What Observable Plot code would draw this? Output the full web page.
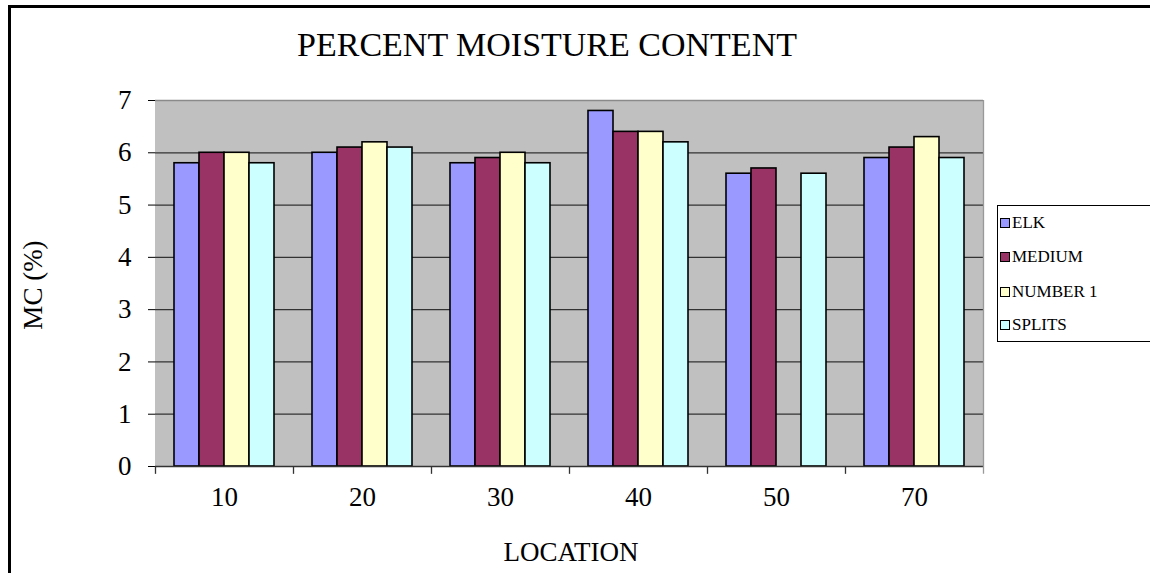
<!DOCTYPE html>
<html>
<head>
<meta charset="utf-8">
<script src="https://cdn.jsdelivr.net/npm/d3@7"></script>
<script src="https://cdn.jsdelivr.net/npm/@observablehq/plot@0.6"></script>
<style>
  html, body { margin: 0; padding: 0; background: #fff; }
  #wrap { position: relative; width: 1150px; height: 573px; overflow: hidden; font-family: "Liberation Serif", serif; color: #000; }
  #border { position: absolute; left: 8px; top: 5px; width: 1200px; height: 700px; border-left: 3px solid #000; border-top: 3px solid #000; }
  #chart { position: absolute; left: 0; top: 0; }
  .lbl { position: absolute; white-space: nowrap; }
  #title { left: 547px; top: 45px; transform: translate(-50%, -50%); font-size: 34px; }
  #xlab { left: 571px; top: 552px; transform: translate(-50%, -50%); font-size: 27px; }
  #ylab { left: 33px; top: 285px; transform: translate(-50%, -50%) rotate(-90deg); font-size: 27px; }
  #legend { position: absolute; left: 997px; top: 205px; width: 200px; height: 137px; border: 1px solid #000; box-sizing: border-box; background: #fff; }
  .li { position: absolute; left: 2px; font-size: 17px; display: flex; align-items: center; height: 20px; }
  .sw { width: 8px; height: 8px; border: 1.5px solid #000; margin-right: 2px; }
</style>
</head>
<body>
<div id="wrap">
  <div id="border"></div>
  <div id="chart"></div>
  <div class="lbl" id="title">PERCENT MOISTURE CONTENT</div>
  <div class="lbl" id="xlab">LOCATION</div>
  <div class="lbl" id="ylab">MC (%)</div>
  <div id="legend"></div>
</div>
<script>
const locations = ["10", "20", "30", "40", "50", "70"];
const series = ["ELK", "MEDIUM", "NUMBER 1", "SPLITS"];
const colors = ["#9999FF", "#993366", "#FFFFCC", "#CCFFFF"];
const elk     = [5.8, 6.0, 5.8, 6.8, 5.6, 5.9];
const medium  = [6.0, 6.1, 5.9, 6.4, 5.7, 6.1];
const number1 = [6.0, 6.2, 6.0, 6.4, null, 6.3];
const splits  = [5.8, 6.1, 5.8, 6.2, 5.6, 5.9];
const yTicks = [0, 1, 2, 3, 4, 5, 6, 7];

const valuesBySeries = [elk, medium, number1, splits];
const data = [];
locations.forEach((loc, i) => {
  series.forEach((s, j) => {
    const v = valuesBySeries[j][i];
    if (v != null) data.push({location: loc, series: s, value: v});
  });
});
const edges = locations.map(loc => ({location: loc, series: series[0]}));
const lastEdge = [{location: locations[locations.length - 1], series: series[series.length - 1]}];

const plot = Plot.plot({
  width: 1150,
  height: 573,
  marginLeft: 153,
  marginRight: 165,
  marginTop: 100,
  marginBottom: 107,
  style: {fontFamily: "Liberation Serif, serif", fontSize: "27px", color: "#000", background: "transparent", overflow: "visible"},
  fx: {domain: locations, paddingInner: 0, paddingOuter: 0, label: null, tickSize: 0, tickPadding: 20},
  x: {domain: series, paddingInner: 0, paddingOuter: 0.75, axis: null},
  y: {domain: [0, 7], ticks: yTicks, tickFormat: "d", tickSize: 7, tickPadding: 17, label: null, line: true},
  color: {domain: series, range: colors},
  facet: {data: data, x: "location"},
  marks: [
    Plot.frame({fill: "#C0C0C0", stroke: "#C0C0C0", strokeWidth: 1}),
    Plot.ruleY(yTicks.slice(1, -1), {stroke: "#333", strokeWidth: 1.3}),
    Plot.ruleY([7], {stroke: "#8a8a8a", strokeWidth: 1.5}),
    Plot.barY(data, {x: "series", y: "value", fill: "series", stroke: "#000", strokeWidth: 1.6}),
    Plot.ruleY([0], {stroke: "#333", strokeWidth: 1.3}),
    Plot.ruleX(edges, {x: "series", fx: "location", y1: 0, y2: -0.15, dx: -31.5, stroke: "#333", strokeWidth: 1.3, clip: false}),
    Plot.ruleX(lastEdge, {x: "series", fx: "location", y1: -0.15, y2: 7, dx: 31.5, stroke: "#999", strokeWidth: 1.3})
  ]
});
document.getElementById("chart").appendChild(plot);

// legend built from series and colors
const legend = document.getElementById("legend");
const rowTop = [7, 41, 76, 109];
series.forEach((s, i) => {
  const d = document.createElement("div");
  d.className = "li";
  d.style.top = rowTop[i] + "px";
  const sw = document.createElement("span");
  sw.className = "sw";
  sw.style.background = colors[i];
  d.appendChild(sw);
  d.appendChild(document.createTextNode(s));
  legend.appendChild(d);
});
</script>
</body>
</html>
